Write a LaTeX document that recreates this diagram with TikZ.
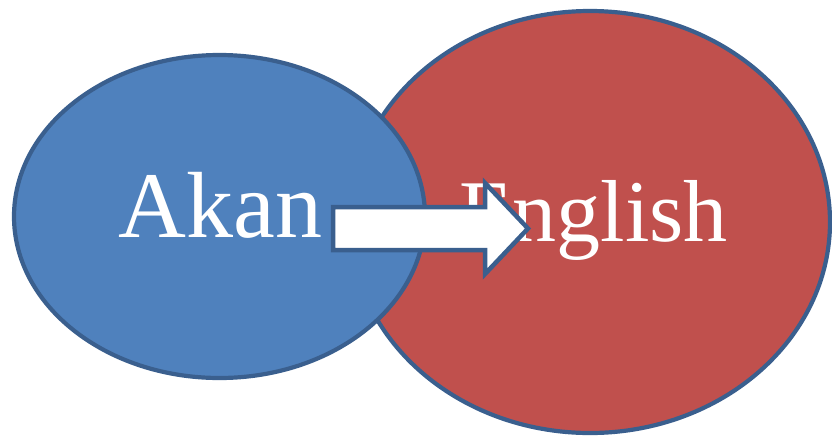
\documentclass[tikz,border=0pt]{standalone}
\usepackage{fontspec}
\setmainfont{Liberation Serif}
\usetikzlibrary{shapes.geometric,calc}
\definecolor{akanblue}{HTML}{4F81BD}
\definecolor{englishred}{HTML}{C0504D}
\definecolor{rimblue}{HTML}{3A5F8E}
\begin{document}
\begin{tikzpicture}[x=1pt,y=-1pt,
  bubble/.style={ellipse, draw=rimblue, line width=4.2pt, inner sep=0pt, outer sep=0pt},
  langlabel/.style={text=white, inner sep=0pt, anchor=base},
  blockarrow/.style={draw=rimblue, fill=white, line width=4.5pt, line join=miter}]
  \useasboundingbox (0,0) rectangle (832,437);
  % English circle, behind everything else
  \node[bubble, fill=englishred, minimum width=480pt, minimum height=422pt] (english) at (590,222) {};
  \node[langlabel, font=\fontsize{88}{88}\selectfont] (englishtxt) at (593.5,241.5) {English};
  % Akan circle overlapping on the left
  \node[bubble, fill=akanblue, minimum width=411pt, minimum height=323pt] (akan) at (219.5,216.5) {};
  \node[langlabel, font=\fontsize{94}{94}\selectfont] (akantxt) at (220.5,237) {Akan};
  % block arrow from Akan into English
  \coordinate (tail) at (333,228.5);
  \coordinate (tip) at (528,228.5);
  \draw[blockarrow] ($(tail)+(0,-21.5)$) -- (485,207) -- (485,183) -- (tip)
    -- (485,274) -- (485,250) -- ($(tail)+(0,21.5)$) -- cycle;
\end{tikzpicture}
\end{document}
